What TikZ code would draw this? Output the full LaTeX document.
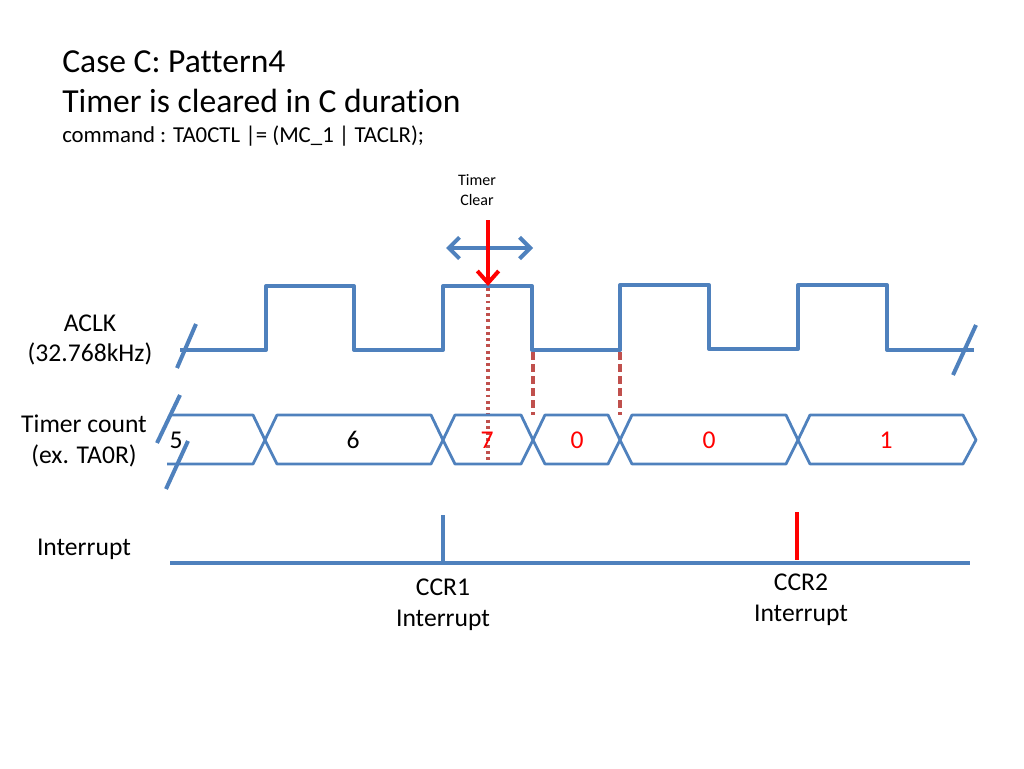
\documentclass[tikz,border=0pt]{standalone}
\usepackage{fontspec}
\setmainfont[Ligatures={NoCommon}]{Carlito}
\usetikzlibrary{arrows.meta}
\definecolor{wblue}{HTML}{4F81BD}
\definecolor{wred}{HTML}{C0504D}
\definecolor{pred}{HTML}{FF0000}
\begin{document}
\begin{tikzpicture}[x=0.75pt,y=-0.75pt,
  wave/.style={draw=wblue,line width=3pt,line join=round},
  bus/.style={draw=wblue,line width=2.1pt,line join=round},
  lbl/.style={font=\fontsize{19.2}{23}\selectfont,align=center,inner sep=0pt},
  val/.style={font=\fontsize{19.2}{23}\selectfont,inner sep=0pt},
  ttl/.style={font=\fontsize{25.2}{30}\selectfont,anchor=base west,inner sep=0pt}]
\useasboundingbox (0,0) rectangle (1024,768);
% titles
\node[ttl] (t1) at (62,72) {Case C: Pattern4};
\node[ttl] (t2) at (62,112) {Timer is cleared in C duration};
\node[font=\fontsize{17.1}{20}\selectfont,anchor=base west,inner sep=0pt] (t3) at (62,142) {command : TA0CTL |= (MC\_1 | TACLR);};
% side labels
\node[lbl] (aclk) at (90,340) {ACLK\\(32.768kHz)};
\node[lbl] (tcnt) at (84,441) {Timer count\\(ex. TA0R)};
\node[lbl] (intr) at (84,549) {Interrupt};
% timer clear
\node[font=\fontsize{12}{14.4}\selectfont,align=center,inner sep=0pt] (tc) at (477,190) {Timer\\Clear};
% clock
\draw[wave] (180,350) -- (266,350) -- (266,286) -- (354,286) -- (354,350) -- (443,350) -- (443,286) -- (532,286) -- (532,350) -- (620,350) -- (620,285) -- (709,285) -- (709,349) -- (798,349) -- (798,285) -- (887,285) -- (887,350) -- (974,350);
\draw[wblue,line width=3pt] (177,368) -- (196,324);
\draw[wblue,line width=3pt] (953,375) -- (976,325);
% guide lines
\draw[wred,line width=2.5pt,dash pattern=on 2.2pt off 2.5pt] (488,288) -- (488,463);
\draw[wred,line width=2.5pt,dash pattern=on 6pt off 3pt] (533,352) -- (533,415);
\draw[wred,line width=2.5pt,dash pattern=on 6pt off 3pt] (620,352) -- (620,415);
% arrows
\draw[wblue,line width=3pt,{Straight Barb[length=8pt,width=16pt]}-{Straight Barb[length=8pt,width=16pt]}] (446,248) -- (533,248);
\coordinate (ctop) at (488,220);
\coordinate (cbot) at (488,286);
\draw[pred,line width=3pt,-{Straight Barb[length=9pt,width=16pt]}] (ctop) -- (cbot);
% bus
\draw[bus] (172,415) -- (253,415) -- (265,440) -- (253,464) -- (167,464);
\draw[bus] (265,440) -- (277,415) -- (431,415) -- (443,440) -- (431,464) -- (277,464) -- cycle;
\draw[bus] (443,440) -- (455,415) -- (521,415) -- (533,440) -- (521,464) -- (455,464) -- cycle;
\draw[bus] (533,440) -- (545,415) -- (608,415) -- (620,440) -- (608,464) -- (545,464) -- cycle;
\draw[bus] (620,440) -- (632,415) -- (786,415) -- (798,440) -- (786,464) -- (632,464) -- cycle;
\draw[bus] (798,440) -- (810,415) -- (963,415) -- (976,440) -- (963,464) -- (810,464) -- cycle;
\draw[wblue,line width=3pt] (157,443) -- (180,395);
\draw[wblue,line width=3pt] (166,489) -- (188,441);
\node[val] (v5) at (176,440) {5};
\node[val] (v6) at (353,440) {6};
\node[val,text=pred] (v7) at (487,440) {7};
\node[val,text=pred] (v0a) at (577,440) {0};
\node[val,text=pred] (v0b) at (709,440) {0};
\node[val,text=pred] (v1) at (886,440) {1};
% interrupt
\draw[wblue,line width=3pt] (170,563) -- (970,563);
\draw[wblue,line width=2.5pt] (443,515) -- (443,563);
\draw[pred,line width=3pt] (797,512) -- (797,560);
\node[lbl] (ccr1) at (443,605) {CCR1\\Interrupt};
\node[lbl] (ccr2) at (801,600) {CCR2\\Interrupt};
\end{tikzpicture}
\end{document}
